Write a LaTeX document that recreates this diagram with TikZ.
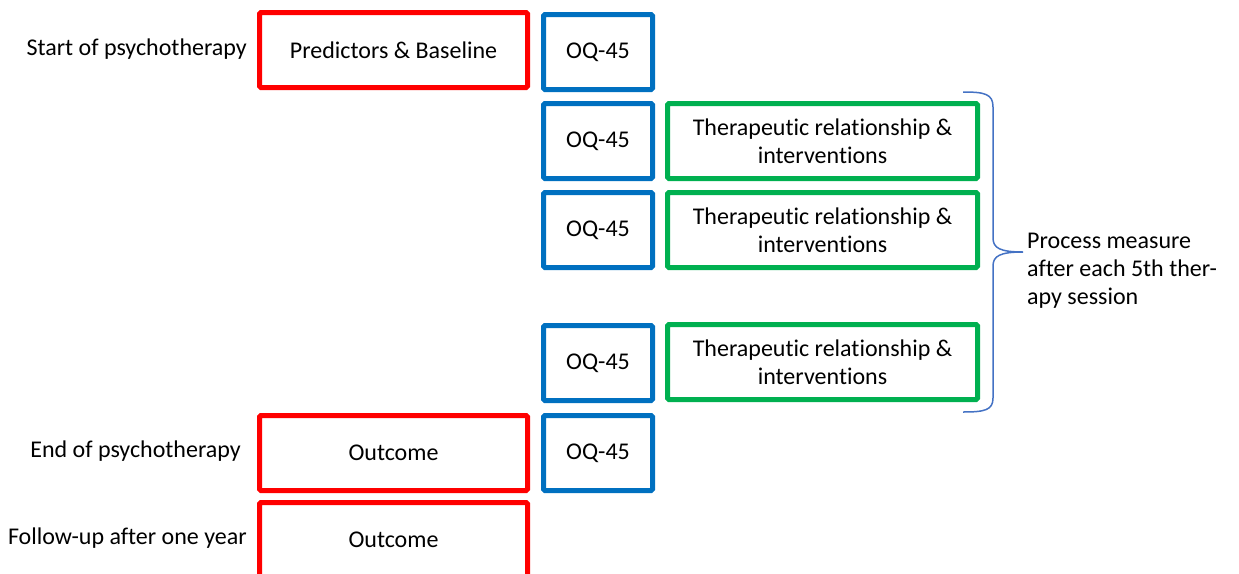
\documentclass[tikz,border=0pt]{standalone}
\usepackage{fontspec}
\setmainfont{Carlito}[Ligatures={NoCommon}]
\definecolor{phasered}{HTML}{FF0000}
\definecolor{oqblue}{HTML}{0070C0}
\definecolor{relgreen}{HTML}{00B050}
\definecolor{bracecol}{HTML}{4472C4}
\newcommand{\relintv}{Therapeutic relationship \&\\intervent\kern0pt ions}

\begin{document}
\begin{tikzpicture}[x=1pt, y=-1pt,
		every node/.style={font=\fontsize{24}{28}\selectfont},
		frame/.style={draw, line width=5pt, rounded corners=1.5pt, minimum height=75pt, inner sep=0pt, align=center},
		phasebox/.style={frame, phasered, text=black, minimum width=268pt},
		oqbox/.style={frame, oqblue, text=black, minimum width=109pt},
		relbox/.style={frame, relgreen, text=black, minimum width=310pt},
		lab/.style={anchor=east, inner sep=0pt}]
		\useasboundingbox (0,0) rectangle (1239,573);

		\node[lab] (start) at (247,49) {Start of psychotherapy};
		\node[lab] (ende) at (241,451) {End of psychotherapy};
		\node[lab] (fol) at (247,538) {Follow-up after one year};

		\node[phasebox] (base) at (393.5,50) {Predictors \& Baseline};
		\node[phasebox] (out1) at (393.5,453) {Outcome};
		\node[phasebox] (out2) at (393.5,540) {Outcome};

		\node[oqbox] (oq1) at (598,52) {OQ-45};
		\node[oqbox] (oq2) at (598,141) {OQ-45};
		\node[oqbox] (oq3) at (598,230) {OQ-45};
		\node[oqbox] (oq4) at (598,363) {OQ-45};
		\node[oqbox] (oq5) at (598,453) {OQ-45};

		\node[relbox] (rel1) at (822.5,141) {\relintv};
		\node[relbox] (rel2) at (822.5,230) {\relintv};
		\node[relbox] (rel3) at (822.5,362) {\relintv};

		\node[anchor=west, align=left, inner sep=0pt] (proc) at (1027,271) {Process measure\\after each 5th ther-\\apy session};

		% brace
		\coordinate (brtop) at (963,92);
		\coordinate (brtip) at (1023,252);
		\coordinate (brbot) at (963,412);
		\draw[bracecol, line width=1.5pt] (brtop) .. controls (985,92) and (993,94) .. (993,107) -- (993,238)
			.. controls (993,248) and (1000,252) .. (brtip)
			.. controls (1000,252) and (993,256) .. (993,266) -- (993,398)
			.. controls (993,410) and (985,412) .. (brbot);
	\end{tikzpicture}
\end{document}
